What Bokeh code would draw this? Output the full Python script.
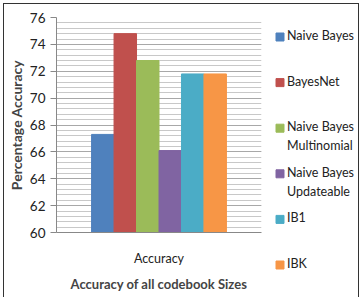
from bokeh.plotting import figure
from bokeh.layouts import row, column
from bokeh.core.properties import value
from bokeh.models import (FactorRange, ColumnDataSource, Range1d, SingleIntervalTicker)
from bokeh.embed import file_html
from bokeh.resources import INLINE

group = "Accuracy"
series = ["Naive Bayes", "BayesNet", "Naive Bayes Multinomial",
          "Naive Bayes Updateable", "IB1", "IBK"]
legend_labels = ["Naive Bayes", "BayesNet", "Naive Bayes\nMultinomial",
                 "Naive Bayes\nUpdateable", "IB1", "IBK"]
values = [67.3, 74.8, 72.8, 66.1, 71.8, 71.8]
colors = ["#4F81BD", "#C0504D", "#9BBB59", "#8064A2", "#4BACC6", "#F79646"]
y_min, y_max = 60, 76

FONT = "Lato"
FRAME_H = 215
TOTAL_H = 293

factors = [(group, s) for s in series]
src = ColumnDataSource(dict(x=factors, top=values, color=colors))

p = figure(frame_width=205, frame_height=FRAME_H, output_backend="svg", toolbar_location=None,
           x_range=FactorRange(*factors, range_padding=0.52, factor_padding=0.0,
                               group_padding=0.0),
           y_range=Range1d(y_min, y_max),
           min_border_left=47, min_border_right=4, min_border_top=13,
           min_border_bottom=TOTAL_H - FRAME_H - 13)
p.outline_line_color = None

p.vbar(x="x", top="top", bottom=y_min, width=1.0, color="color", source=src)

p.yaxis.ticker = SingleIntervalTicker(interval=2, num_minor_ticks=5)
p.ygrid.ticker = SingleIntervalTicker(interval=2, num_minor_ticks=5)
p.ygrid.grid_line_color = "#a8a8a8"
p.ygrid.minor_grid_line_color = "#c8c8c8"
p.xgrid.grid_line_color = None

p.yaxis.axis_label = "Percentage Accuracy"
p.yaxis.axis_label_text_font = FONT
p.yaxis.axis_label_text_font_style = "bold"
p.yaxis.axis_label_text_font_size = "14px"
p.yaxis.axis_label_standoff = 2
p.yaxis.major_label_text_font = FONT
p.yaxis.major_label_text_font_size = "13.5px"
p.yaxis.major_label_text_color = "#222"
p.yaxis.axis_line_color = "#888"
p.yaxis.major_tick_line_color = "#888"
p.yaxis.major_tick_out = 6
p.yaxis.major_tick_in = 0
p.yaxis.minor_tick_line_color = None

p.xaxis.axis_label = "Accuracy of all codebook Sizes"
p.xaxis.axis_label_text_font = FONT
p.xaxis.axis_label_text_font_style = "bold"
p.xaxis.axis_label_text_font_size = "13px"
p.xaxis.axis_label_standoff = 7
p.xaxis.major_label_standoff = 12
p.xaxis.major_label_text_font_size = "0px"
p.xaxis.major_label_text_alpha = 0
p.xaxis.group_text_font = FONT
p.xaxis.group_text_font_size = "12.5px"
p.xaxis.group_text_font_style = "normal"
p.xaxis.group_text_color = "#222"
p.xaxis.axis_line_color = "#888"
p.xaxis.major_tick_line_color = None
p.xaxis.minor_tick_line_color = None
p.xaxis.separator_line_color = None

# legend panel: evenly spaced slots, one per series
LEG_W = 93
SLOT = 45.6
FIRST = 32.5      # px from panel top to first slot
idx = list(range(len(series)))
lsrc = ColumnDataSource(dict(i=idx, label=legend_labels, color=colors))
lf = figure(width=LEG_W, height=TOTAL_H, output_backend="svg", toolbar_location=None,
            x_range=Range1d(0, LEG_W),
            y_range=Range1d((TOTAL_H - FIRST) / SLOT, -FIRST / SLOT),
            min_border=0, min_border_left=0, min_border_right=0, min_border_top=0,
            min_border_bottom=0, x_axis_type=None, y_axis_type=None)
lf.outline_line_color = None
lf.grid.grid_line_color = None
lf.scatter(x=14.5, y="i", marker="square", size=8, color="color", source=lsrc)
lf.text(x=21.5, y="i", text="label", source=lsrc, text_font=value(FONT),
        text_font_size="12.5px", text_baseline="top", text_align="left",
        text_line_height=1.25, y_offset=-9, text_color="#222")

lay = row(p, column(lf), styles={"border": "1.5px solid #333", "margin": "3px"})

open("out.html", "w").write(file_html(lay, INLINE))
